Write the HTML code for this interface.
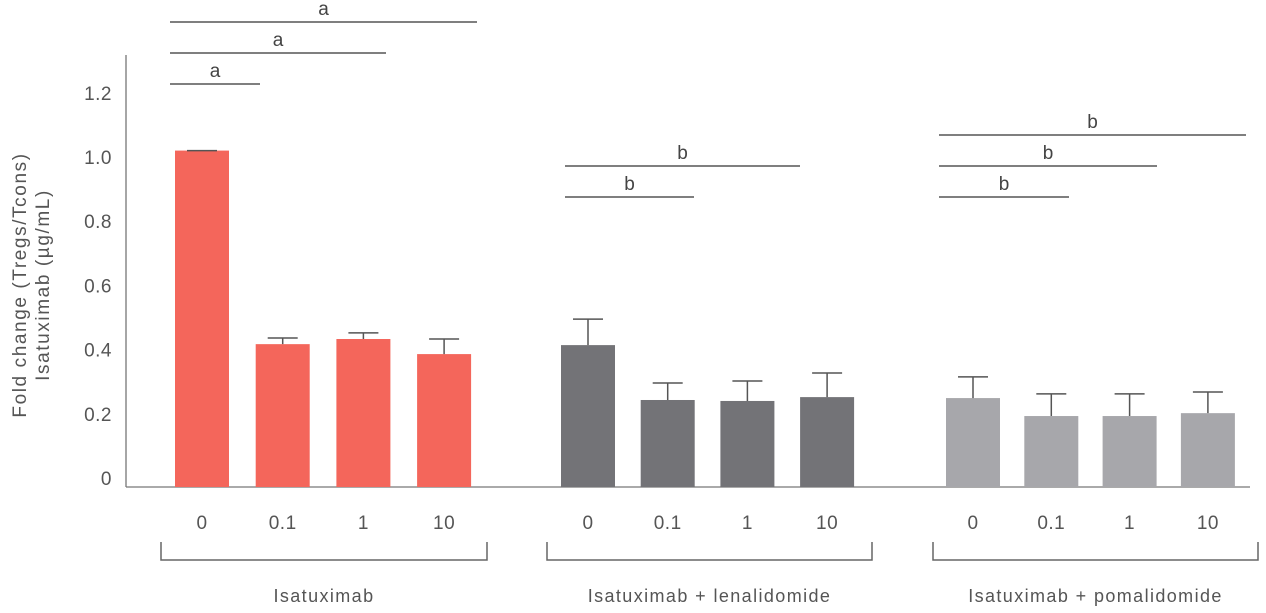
<!DOCTYPE html>
<html><head><meta charset="utf-8"><style>
body{margin:0;background:#fff;}
svg{display:block;font-family:"Liberation Sans",sans-serif;}
</style></head><body>
<svg id="chart" width="1266" height="613"></svg>
<script>
const groups=["Isatuximab","Isatuximab + lenalidomide","Isatuximab + pomalidomide"];
const doses=["0","0.1","1","10"];
const values=[[1.02,0.417,0.433,0.386],[0.414,0.243,0.240,0.252],[0.249,0.193,0.193,0.202]];
const errTops=[[1.02,0.436,0.452,0.433],[0.495,0.296,0.302,0.327],[0.315,0.262,0.262,0.268]];
const yTicks=[0,0.2,0.4,0.6,0.8,1.0,1.2];
const yTickLabels=["0","0.2","0.4","0.6","0.8","1.0","1.2"];
const colors=["#f4665b","#737377","#a7a7ab"];
const svg=document.getElementById('chart');
const NS="http://www.w3.org/2000/svg";
function y(v){return 478-321*v;}
const groupStart=[175,561,946];
const barStep=[80.7,79.7,78.3];
function x(g,i){return groupStart[g]+i*barStep[g];}
const bw=54;
function mk(t,a,txt){const e=document.createElementNS(NS,t);for(const k in a)e.setAttribute(k,a[k]);if(txt!==undefined)e.textContent=txt;svg.appendChild(e);return e;}
let e;
e=mk('line',{x1:126,y1:55,x2:126,y2:487,stroke:'#777','stroke-width':1.3});


e=mk('line',{x1:126,y1:487,x2:1250,y2:487,stroke:'#777','stroke-width':1.3});


yTicks.forEach((t,i)=>{
 e=mk('text',{x:112,y:y(t)+7,'text-anchor':'end','font-size':19,fill:'#555','letter-spacing':0.5},yTickLabels[i]);
 
 
});
e=mk('text',{transform:'translate(26,285) rotate(-90)','text-anchor':'middle','font-size':19,fill:'#555','letter-spacing':1.6},'Fold change (Tregs/Tcons)');


e=mk('text',{transform:'translate(49,285) rotate(-90)','text-anchor':'middle','font-size':19,fill:'#555','letter-spacing':1.6},'Isatuximab (µg/mL)');


values.forEach((vs,g)=>{vs.forEach((v,i)=>{
 const bx=x(g,i),cx=bx+bw/2;
 e=mk('rect',{x:bx,y:y(v),width:bw,height:487-y(v),fill:colors[g]});
 
 
 e=mk('path',{d:`M${cx},${y(v)}V${y(errTops[g][i])}M${cx-15},${y(errTops[g][i])}H${cx+15}`,stroke:'#555','stroke-width':1.5,fill:'none'});
 
 
 e=mk('text',{x:cx,y:529,'text-anchor':'middle','font-size':19,fill:'#555','letter-spacing':0.5},doses[i]);
 
 
});});
const brackets=[[161,487],[547,872],[933,1258]];
brackets.forEach((b,g)=>{
 e=mk('path',{d:`M${b[0]},542V560H${b[1]}V542`,stroke:'#666','stroke-width':1.5,fill:'none'});
 
 
 e=mk('text',{x:(b[0]+b[1])/2,y:602,'text-anchor':'middle','font-size':18,fill:'#555','letter-spacing':1.4},groups[g]);
 
 
});
const sig=[[170,477,22,'a'],[170,386,53,'a'],[170,260,84,'a'],[565,800,166,'b'],[565,694,197,'b'],[939,1246,135,'b'],[939,1157,166,'b'],[939,1069,197,'b']];
sig.forEach(s=>{
 e=mk('line',{x1:s[0],x2:s[1],y1:s[2],y2:s[2],stroke:'#555','stroke-width':1.5});
 
 
 e=mk('text',{x:(s[0]+s[1])/2,y:s[2]-7,'text-anchor':'middle','font-size':19,fill:'#444'},s[3]);
 
 
});
</script>
</body></html>
